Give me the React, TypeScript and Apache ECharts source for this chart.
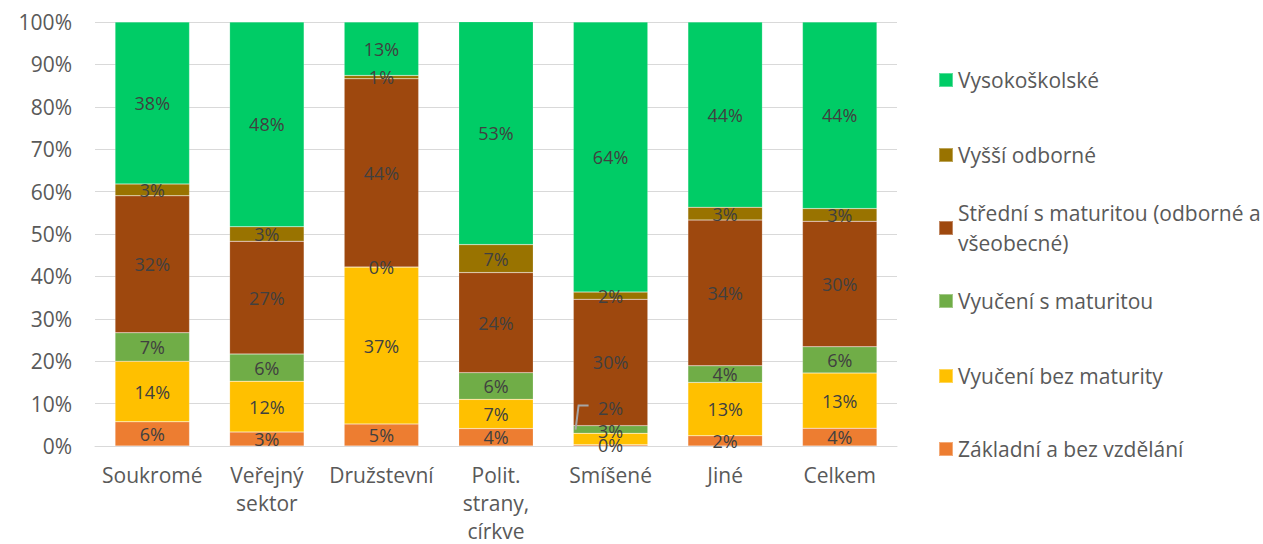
import React, { useEffect, useRef } from "react";
import * as echarts from "echarts";

const categories = ["Soukromé", "Veřejný\nsektor", "Družstevní", "Polit.\nstrany,\ncírkve", "Smíšené", "Jiné", "Celkem"];

const seriesNames = [
  "Základní a bez vzdělání",
  "Vyučení bez maturity",
  "Vyučení s maturitou",
  "Střední s maturitou (odborné a všeobecné)",
  "Vyšší odborné",
  "Vysokoškolské",
];

const zakladni = [5.7, 3.3, 5.2, 4.1, 0.3, 2.4, 4.2];
const vyuceniBez = [14.3, 12.0, 37.0, 6.9, 2.7, 12.6, 13.0];
const vyuceniS = [6.7, 6.4, 0.0, 6.3, 1.8, 3.9, 6.2];
const stredni = [32.3, 26.6, 44.4, 23.6, 29.8, 34.4, 29.6];
const vyssi = [2.8, 3.4, 0.8, 6.6, 1.7, 3.0, 3.0];
const vysokoskolske = [38.2, 48.3, 12.6, 52.6, 63.7, 43.7, 44.0];

const seriesValues = [zakladni, vyuceniBez, vyuceniS, stredni, vyssi, vysokoskolske];
const colors = ["#ED7D31", "#FFC000", "#70AD47", "#9E480E", "#997300", "#00CC66"];

const yTicks = [0, 10, 20, 30, 40, 50, 60, 70, 80, 90, 100];

const FONT = "'Open Sans', 'Noto Sans', sans-serif";

export default function App() {
  const ref = useRef<HTMLDivElement>(null);
  useEffect(() => {
    if (!ref.current) return;
    const chart = echarts.init(ref.current, undefined, { renderer: "svg" });

    const series = seriesNames.map((name, si) => ({
      name,
      type: "bar",
      stack: "total",
      barCategoryGap: "35%",
      data: seriesValues[si],
      itemStyle: { color: colors[si], borderColor: "rgba(255,255,255,0.35)", borderWidth: 0.5 },
      label: {
        show: true,
        position: "inside",
        color: "#404040",
        fontSize: 18,
        fontFamily: FONT,
        formatter: (p: any) => Math.round(p.value) + "%",
      },
      labelLayout:
        si === 2
          ? (p: any) => (p.dataIndex === 4 ? { dy: -21 } : {})
          : si === 1
          ? (p: any) => (p.dataIndex === 4 ? { dy: -8 } : {})
          : undefined,
    }));

    const legendCenters = [80, 155, 228, 301, 376, 449];
    const legendOrder = [5, 4, 3, 2, 1, 0];
    const LH = 30;
    const legends = legendOrder.map((si, i) => ({
      data: [seriesNames[si]],
      orient: "vertical",
      left: 938,
      top: si === 3 ? legendCenters[i] - LH * 1.5 : legendCenters[i] - LH / 2,
      padding: 0,
      itemWidth: 14,
      itemHeight: 14,
      icon: "rect",
      selectedMode: false,
      formatter: si === 3 ? () => "Střední s maturitou (odborné a\nvšeobecné)" : undefined,
      textStyle: {
        color: "#595959",
        fontSize: 21,
        fontFamily: FONT,
        lineHeight: LH,
        padding: si === 3 ? [LH, 0, 0, 0] : 0,
      },
    }));

    chart.setOption({
      animation: false,
      color: colors,
      grid: { left: 95, right: 366, top: 22, bottom: 98, containLabel: false, outerBoundsMode: "none" },
      legend: legends,
      xAxis: {
        type: "category",
        data: categories,
        axisLine: { lineStyle: { color: "#D9D9D9", width: 1 } },
        axisTick: { show: false },
        axisLabel: { interval: 0, color: "#595959", fontSize: 21, fontFamily: FONT, lineHeight: 28, margin: 15 },
      },
      yAxis: {
        type: "value",
        min: yTicks[0],
        max: yTicks[yTicks.length - 1],
        interval: 10,
        axisLabel: { color: "#595959", fontSize: 21, fontFamily: FONT, formatter: "{value}%", margin: 23 },
        splitLine: { lineStyle: { color: "#D9D9D9", width: 1 } },
        axisLine: { show: false },
        axisTick: { show: false },
      },
      series,
    });

    // leader line for the moved label in "Smíšené"
    const ci = 4;
    const greenTop = zakladni[ci] + vyuceniBez[ci] + vyuceniS[ci];
    const pBar = chart.convertToPixel({ gridIndex: 0 }, [ci, greenTop]) as number[];
    const pLabel = chart.convertToPixel({ gridIndex: 0 }, [ci, greenTop + 9]) as number[];
    chart.setOption({
      graphic: [
        {
          type: "polyline",
          shape: {
            points: [
              [pBar[0] - 35, pBar[1] + 4],
              [pBar[0] - 32, pLabel[1] + 18],
              [pBar[0] - 22, pLabel[1] + 18],
            ],
          },
          style: { stroke: "#A6A6A6", lineWidth: 2, fill: "none" },
          z: 100,
        },
      ],
    });
    return () => chart.dispose();
  }, []);
  return <div ref={ref} style={{ position: "fixed", left: 0, top: 0, width: 1263, height: 544, background: "#fff" }} />;
}
